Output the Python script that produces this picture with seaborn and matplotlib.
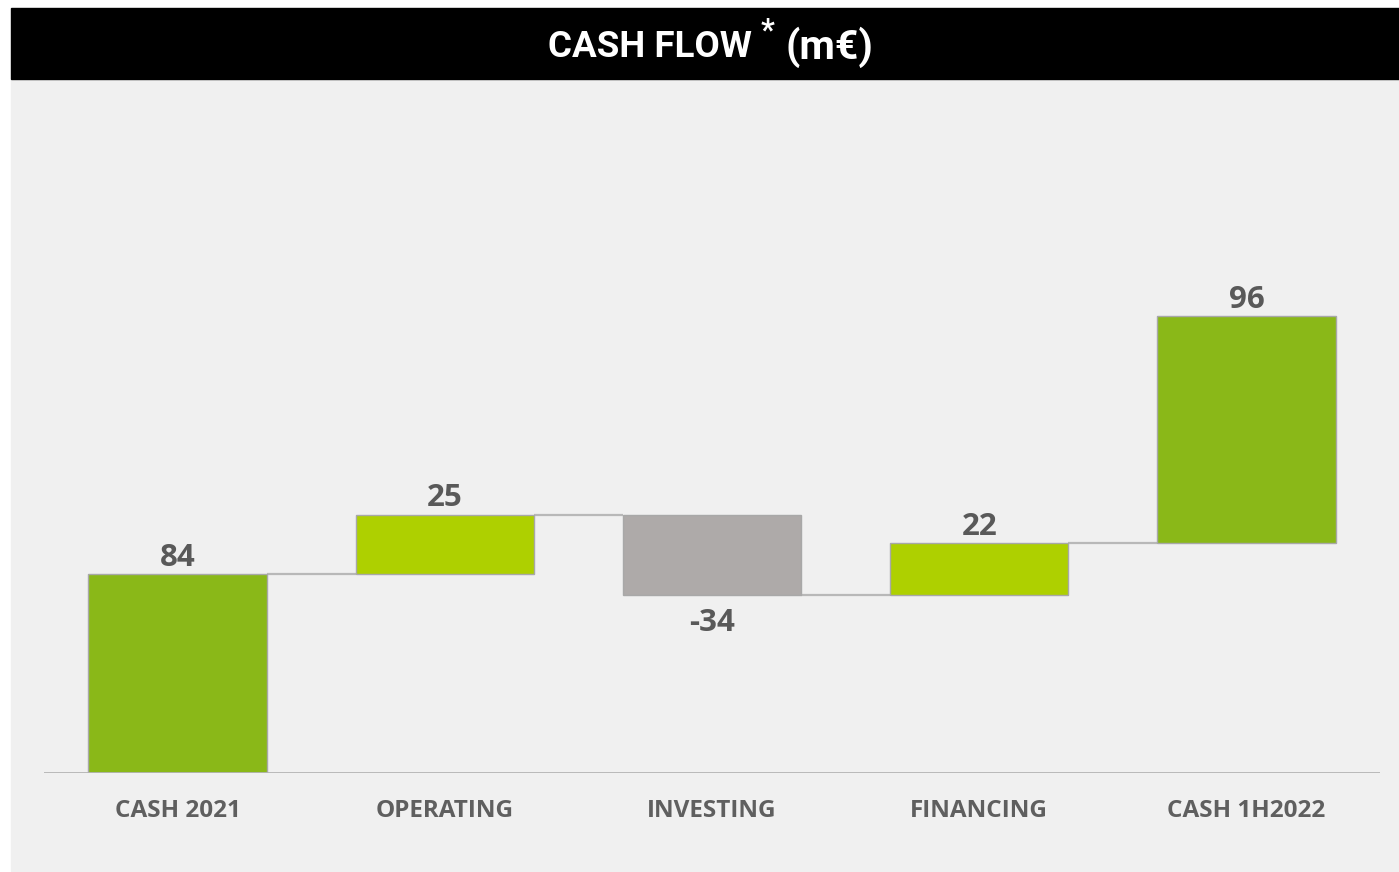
import matplotlib
matplotlib.use("Agg")
import matplotlib.pyplot as plt
from matplotlib.patches import Rectangle
import seaborn as sns
import pandas as pd
import numpy as np

# data
categories = ["CASH 2021", "OPERATING", "INVESTING", "FINANCING", "CASH 1H2022"]
values = [84, 25, -34, 22, 96]
bar_colors = ["#8AB818", "#AED000", "#AEAAA9", "#AED000", "#8AB818"]

# waterfall bases: running total of the flows, first bar from zero
levels = np.cumsum(values[:4])
bottoms = [0, levels[0], levels[1], levels[2], levels[3]]

df = pd.DataFrame({"cat": categories, "val": values, "bottom": bottoms})

W, H = 1399, 872
fig = plt.figure(figsize=(W / 100, H / 100), dpi=100, facecolor="white")


def fx(px):
    return px / W


def fy(py):
    return 1 - py / H


# gray panel and black title bar
fig.patches.append(Rectangle((fx(11), fy(871)), fx(W) - fx(11), fy(79) - fy(871),
                             transform=fig.transFigure, color="#F0F0F0", zorder=-5))
fig.patches.append(Rectangle((fx(11), fy(79)), fx(W) - fx(11), fy(8) - fy(79),
                             transform=fig.transFigure, color="black", zorder=-5))

title_font = ["Roboto", "DejaVu Sans"]
fig.text(fx(752), fy(47), "CASH FLOW", ha="right", va="center", color="white",
         fontsize=26.5, fontweight="bold", family=title_font)
fig.text(fx(768), fy(30), "*", ha="center", va="center", color="white",
         fontsize=22, fontweight="bold", family=title_font)
fig.text(fx(786), fy(47), "(m€)", ha="left", va="center", color="white",
         fontsize=29.5, fontweight="bold", family=title_font)

ax = fig.add_axes([fx(44), fy(773), fx(1380) - fx(44), fy(100) - fy(773)], zorder=2)
ax.set_facecolor("none")

sns.barplot(data=df, x="cat", y="val", color=bar_colors[0], saturation=1,
            bottom=df["bottom"].values, width=0.667, edgecolor="#A8A8A8",
            linewidth=1, ax=ax, zorder=3)
for patch, c in zip(ax.patches, bar_colors):
    patch.set_facecolor(c)

# connector lines between bars
for i in range(4):
    lvl = levels[i]
    ax.plot([i + 0.3335, i + 1 - 0.3335], [lvl, lvl], color="#B8B8B8", lw=1.6,
            zorder=2, solid_capstyle="butt")

ax.axhline(0, color="#B4B4B4", lw=2, zorder=4)

lab_font = ["Open Sans", "DejaVu Sans"]
for i, (v, b) in enumerate(zip(values, bottoms)):
    if v >= 0:
        ax.text(i, b + v + 0.6, f"{v}", ha="center", va="bottom", fontsize=22.5,
                fontweight="bold", color="#595959", family=lab_font)
    else:
        ax.text(i, b + v - 5.5, f"{v}", ha="center", va="top", fontsize=22.5,
                fontweight="bold", color="#595959", family=lab_font)

ax.set_xlim(-0.5, 4.5)
ax.set_ylim(0, 284.2)
ax.set_xlabel("")
ax.set_ylabel("")
ax.set_yticks([])
ax.tick_params(axis="x", length=0, pad=19)
for lab in ax.get_xticklabels():
    lab.set_fontfamily(lab_font)
    lab.set_fontweight("bold")
    lab.set_fontsize(17.5)
    lab.set_color("#5F5F5F")
for s in ax.spines.values():
    s.set_visible(False)

fig.savefig("out.png", dpi=100, facecolor=fig.get_facecolor())
